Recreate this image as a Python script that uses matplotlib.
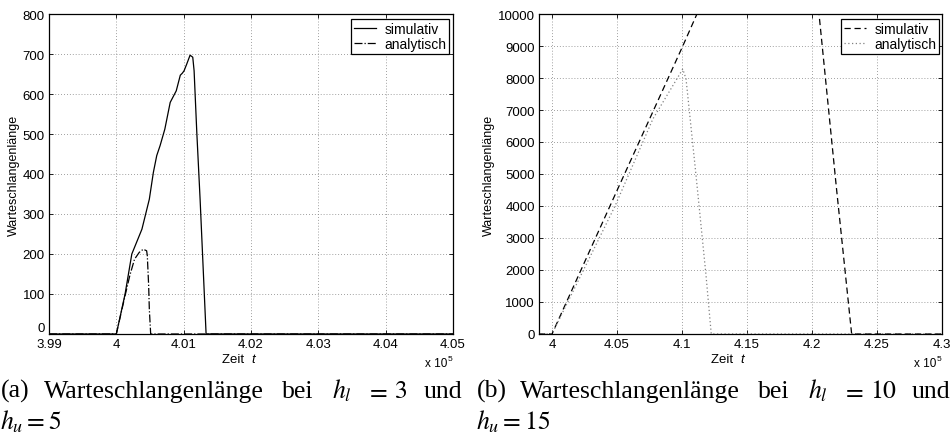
import matplotlib
matplotlib.use("Agg")
import matplotlib.pyplot as plt
from matplotlib.ticker import FixedLocator, FixedFormatter

plt.rcParams["font.family"] = ["Liberation Sans", "DejaVu Sans"]
plt.rcParams["mathtext.fontset"] = "stix"

# --- (a) h_l = 3, h_u = 5 : time in units of 1e5 ---
t_sim_a = [3.99, 4.0, 4.0013, 4.0023, 4.0038, 4.0049, 4.0055, 4.0060, 4.0065,
           4.0072, 4.0080, 4.0089, 4.0095, 4.0098, 4.01006, 4.01046, 4.01095,
           4.01135, 4.01155, 4.01195, 4.01244, 4.01333, 4.05]
q_sim_a = [0, 0, 100, 200, 262, 337, 404, 446, 471,
           512, 579, 608, 647, 652, 658, 675, 697,
           692, 658, 504, 337, 0, 0]

t_ana_a = [3.99, 4.0, 4.0013, 4.0020, 4.0027, 4.0034, 4.0040, 4.0045, 4.0046,
           4.0048, 4.0049, 4.0051, 4.05]
q_ana_a = [0, 0, 96, 146, 187, 204, 212, 208, 196, 121, 62, 0, 0]

xticks_a = [3.99, 4.0, 4.01, 4.02, 4.03, 4.04, 4.05]
xlabels_a = ["3.99", "4", "4.01", "4.02", "4.03", "4.04", "4.05"]
yticks_a = [0, 100, 200, 300, 400, 500, 600, 700, 800]

# --- (b) h_l = 10, h_u = 15 ---
t_sim_b = [3.99, 4.0, 4.0465, 4.1006, 4.1115, 4.1884, 4.2054, 4.2187, 4.2305, 4.3]
q_sim_b = [0, 0, 4170, 9000, 10000, 16800, 10000, 4600, 0, 0]

t_ana_b = [3.99, 4.0, 4.0485, 4.0776, 4.095, 4.1006, 4.1031, 4.1108, 4.1185, 4.1225, 4.3]
q_ana_b = [0, 0, 4000, 6720, 7900, 8280, 7970, 4950, 1820, 0, 0]

xticks_b = [4.0, 4.05, 4.1, 4.15, 4.2, 4.25, 4.3]
xlabels_b = ["4", "4.05", "4.1", "4.15", "4.2", "4.25", "4.3"]
yticks_b = [0, 1000, 2000, 3000, 4000, 5000, 6000, 7000, 8000, 9000, 10000]

W, H = 952, 435
fig = plt.figure(figsize=(W / 100, H / 100), dpi=100)


def px_axes(x0, x1, y0, y1):
    return fig.add_axes([x0 / W, 1 - y1 / H, (x1 - x0) / W, (y1 - y0) / H])


def style(ax, xlim, ylim, xt, xl, yt):
    ax.set_xlim(*xlim)
    ax.set_ylim(*ylim)
    ax.xaxis.set_major_locator(FixedLocator(xt))
    ax.xaxis.set_major_formatter(FixedFormatter(xl))
    ax.yaxis.set_major_locator(FixedLocator(yt))
    ax.yaxis.set_major_formatter(FixedFormatter([str(v) for v in yt]))
    ax.tick_params(direction="in", length=3, width=0.6, top=True, right=True,
                   labelsize=9.5, pad=3, colors="black")
    ax.grid(True, color="0.5", linestyle=(0, (1, 2.5)), linewidth=0.6)
    for s in ax.spines.values():
        s.set_linewidth(0.9)
    ax.set_ylabel("Warteschlangenlänge", fontsize=9, labelpad=2)
    ax.text(0.5, -0.088, "Zeit  ", transform=ax.transAxes, ha="right",
            va="baseline", fontsize=9.5)
    ax.text(0.5, -0.088, "t", transform=ax.transAxes, ha="left",
            va="baseline", fontsize=9.5, fontstyle="italic")
    ax.text(0.985, -0.1, "x 10", transform=ax.transAxes, ha="right",
            va="baseline", fontsize=8.5)
    ax.text(0.987, -0.08, "5", transform=ax.transAxes, ha="left",
            va="baseline", fontsize=6)


ax1 = px_axes(49, 453, 15, 335)
ax1.plot(t_sim_a, q_sim_a, color="black", linewidth=0.9, label="simulativ")
ax1.plot(t_ana_a, q_ana_a, color="black", linewidth=0.9, linestyle="-.",
         label="analytisch")
style(ax1, (3.99, 4.05), (0, 800), xticks_a, xlabels_a, yticks_a)

ax2 = px_axes(539, 942, 15, 335)
ax2.plot(t_sim_b, q_sim_b, color="black", linewidth=0.9, dashes=(5, 3),
         label="simulativ")
ax2.plot(t_ana_b, q_ana_b, color="0.5", linewidth=0.9, linestyle=(0, (1, 2)),
         label="analytisch")
style(ax2, (3.99, 4.3), (0, 10000), xticks_b, xlabels_b, yticks_b)

for ax, anchor in ((ax1, (0.990, 0.984)), (ax2, (0.9926, 0.984))):
    leg = ax.legend(loc="upper right", bbox_to_anchor=anchor, borderaxespad=0,
                    fontsize=10, fancybox=False, framealpha=1, edgecolor="black",
                    labelspacing=0.1, borderpad=0.2, handletextpad=0.6,
                    handlelength=1.6)
    leg.get_frame().set_linewidth(0.9)

# keep the "0" of panel (a) sitting just above the "3.99" tick label
fig.canvas.draw()
ax1.yaxis.get_major_ticks()[0].label1.set_verticalalignment("bottom")

# captions below each panel
cap = dict(fontsize=18.5, va="baseline", family=["Liberation Serif", "DejaVu Serif"])


def caption(words, y):
    for x, s in words:
        fig.text(x / W, 1 - y / H, s, **cap)


caption([(1, "(a)"), (44, "Warteschlangenlänge"), (282, "bei"), (332, r"$h_l$"),
         (366, r"$=$"), (394, r"$3$"), (424, "und")], 398)
caption([(0, r"$h_u = 5$")], 429)
caption([(477, "(b)"), (520, "Warteschlangenlänge"), (758, "bei"), (808, r"$h_l$"),
         (842, r"$=$"), (870, r"$10$"), (912, "und")], 398)
caption([(476, r"$h_u = 15$")], 429)

fig.savefig("out.png", dpi=100)
